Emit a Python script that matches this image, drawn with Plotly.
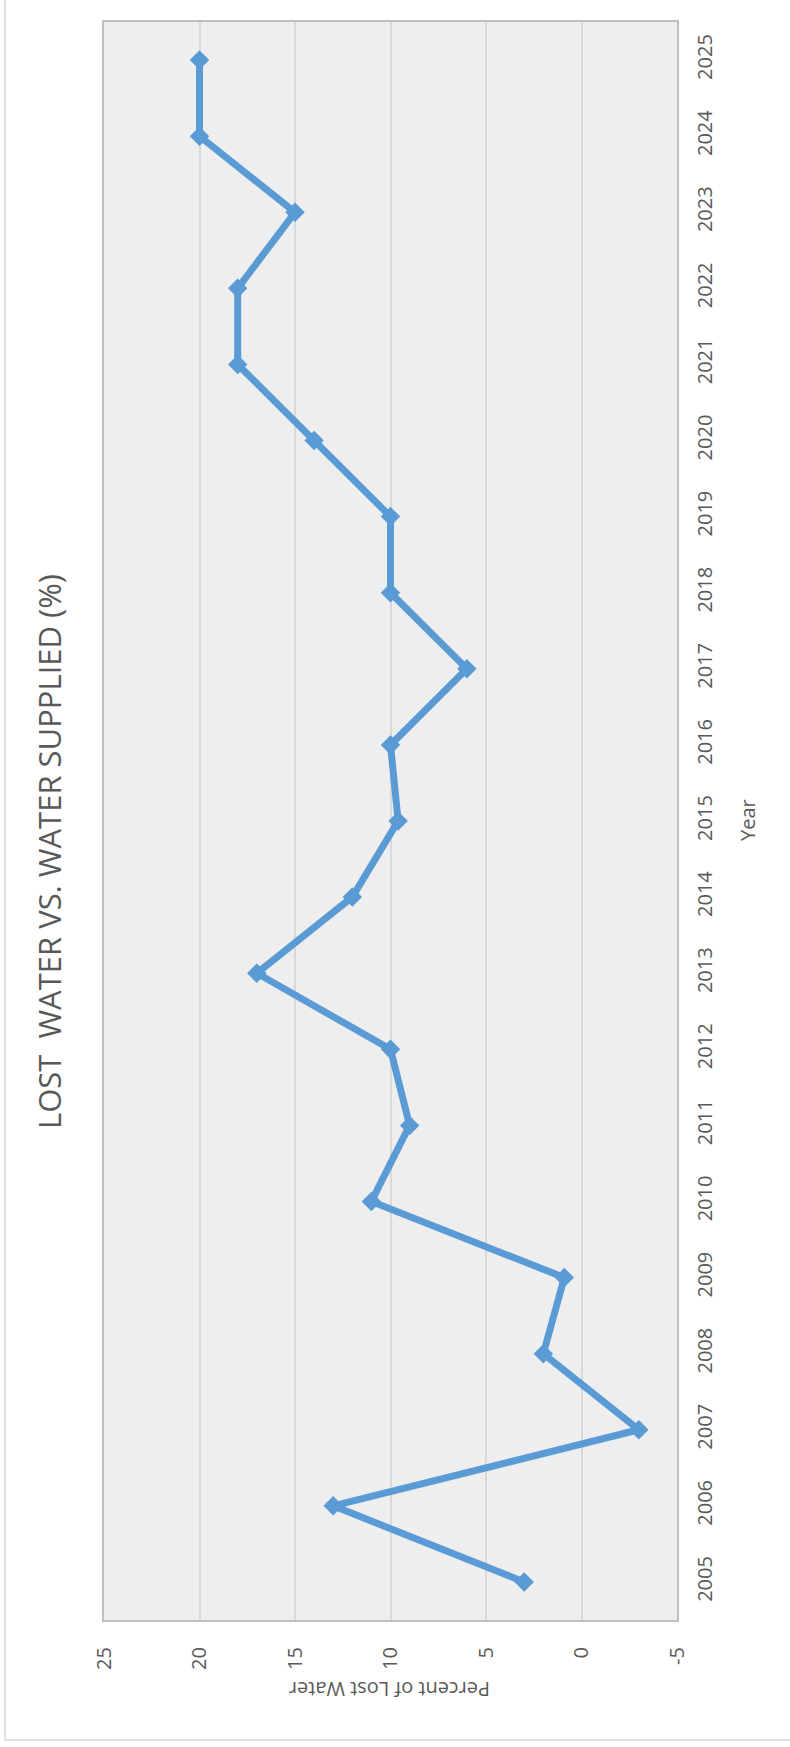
import plotly.graph_objects as go

years = list(range(2005, 2026))
lost_pct = [3, 13, -3, 2, 0.9, 11, 9, 10, 17, 12, 9.6, 10, 6, 10, 10, 14, 18, 18, 15, 20, 20]
value_ticks = [25, 20, 15, 10, 5, 0, -5]

W, H = 790, 1747
L, R, T, B = 104, 677, 22, 1620
pw, ph = R - L, B - T

def px(x):
    return (x - L) / pw

def py(y):
    return (B - y) / ph

FONT = "Open Sans"
GREY = "#595959"

fig = go.Figure()
fig.add_trace(go.Scatter(
    x=lost_pct, y=years, mode="lines+markers",
    line=dict(color="#5B9BD5", width=7),
    marker=dict(symbol="diamond", size=15, color="#5B9BD5"),
    showlegend=False, cliponaxis=False,
))

fig.update_layout(
    width=W, height=H,
    margin=dict(l=L, r=W - R, t=T, b=H - B, autoexpand=False),
    paper_bgcolor="white", plot_bgcolor="#EEEEEE",
    font=dict(family=FONT, color=GREY, size=20),
    xaxis=dict(
        range=[25, -5], tickvals=value_ticks, ticktext=[str(v) for v in value_ticks],
        tickangle=-90, showgrid=True, gridcolor="#D9D9D9", gridwidth=1.5,
        zeroline=False, showline=True, mirror=True, linecolor="#BFBFBF", linewidth=2,
        ticks="", ticklabelstandoff=17, tickfont=dict(size=20, color=GREY),
        automargin=False,
    ),
    yaxis=dict(
        side="right", range=[2004.5, 2025.5], tickvals=years,
        ticktext=[str(y) for y in years], tickangle=-90, showgrid=False,
        zeroline=False, showline=True, mirror=True, linecolor="#BFBFBF", linewidth=2,
        ticks="", ticklabelstandoff=9, tickfont=dict(size=20, color=GREY),
        automargin=False,
    ),
)

fig.add_annotation(
    text="LOST&nbsp; WATER VS. WATER SUPPLIED (%)", textangle=-90,
    xref="paper", yref="paper", x=px(49), y=py(852),
    showarrow=False, font=dict(size=31, color=GREY, family=FONT),
    xanchor="center", yanchor="middle",
)
fig.add_annotation(
    text="Year", textangle=-90,
    xref="paper", yref="paper", x=px(747), y=py(820),
    showarrow=False, font=dict(size=20, color=GREY, family=FONT),
    xanchor="center", yanchor="middle",
)
fig.add_annotation(
    text="Percent of Lost Water", textangle=180,
    xref="paper", yref="paper", x=px(390), y=py(1690),
    showarrow=False, font=dict(size=20, color=GREY, family=FONT),
    xanchor="center", yanchor="middle",
)

# outer chart border
fig.add_shape(
    type="rect", xref="paper", yref="paper",
    x0=px(5), x1=px(900), y0=py(1740), y1=py(-100),
    line=dict(color="#D9D9D9", width=1.5), fillcolor="rgba(0,0,0,0)", layer="below",
)

fig.write_html(
    "out.html",
    config={"displayModeBar": False},
    post_script="document.body.style.margin='0';document.body.style.overflow='hidden';",
)
